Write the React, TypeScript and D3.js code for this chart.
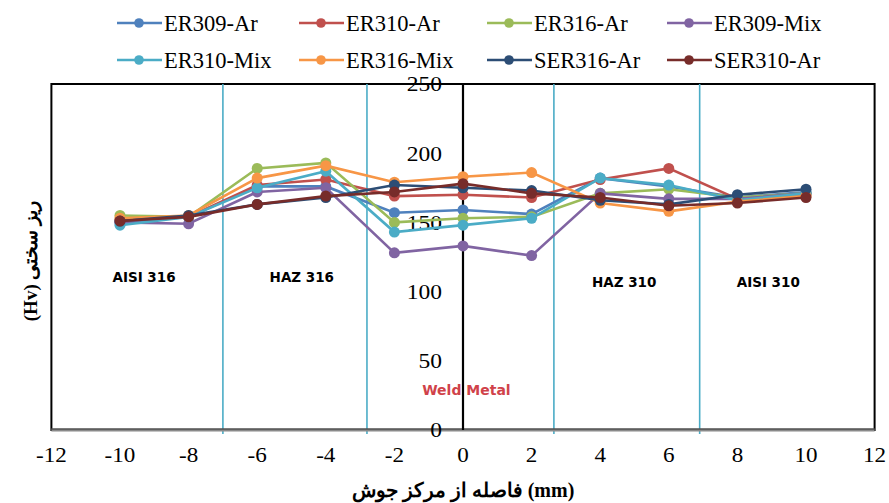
import React from "react";
import * as d3 from "d3";

const xs = [-10, -8, -6, -4, -2, 0, 2, 4, 6, 8, 10];
const seriesNames = ["ER309-Ar", "ER310-Ar", "ER316-Ar", "ER309-Mix", "ER310-Mix", "ER316-Mix", "SER316-Ar", "SER310-Ar"];
const seriesColors = ["#4F81BD", "#C0504D", "#9BBB59", "#8064A2", "#4BACC6", "#F79646", "#2C4D75", "#772C2A"];
const er309Ar = [150, 154, 176, 176, 157, 159, 156, 182, 176, 168, 172];
const er310Ar = [152, 154, 177, 181, 169, 170, 168, 181, 189, 167, 170];
const er316Ar = [155, 154, 189, 193, 150, 153, 154, 171, 174, 168, 171];
const er309Mix = [150, 149, 172, 175, 128, 133, 126, 171, 167, 167, 171];
const er310Mix = [148, 154, 175, 187, 143, 148, 153, 182, 177, 166, 171];
const er316Mix = [153, 155, 182, 191, 179, 183, 186, 164, 158, 165, 169];
const ser316Ar = [151, 155, 163, 168, 177, 175, 173, 166, 163, 170, 174];
const ser310Ar = [151, 154, 163, 169, 172, 178, 171, 168, 162, 164, 168];
const seriesValues = [er309Ar, er310Ar, er316Ar, er309Mix, er310Mix, er316Mix, ser316Ar, ser310Ar];

const xTicks = [-12, -10, -8, -6, -4, -2, 0, 2, 4, 6, 8, 10, 12];
const yTicks = [0, 50, 100, 150, 200, 250];
const zoneBounds = [-7, -2.8, 2.65, 6.9];
const zoneLabels = ["AISI 316", "HAZ 316", "HAZ 310", "AISI 310"];
const zoneLabelX = [-9.3, -4.7, 4.7, 8.9];
const zoneLabelY = [110, 110, 106.5, 106.5];

const W = 889;
const H = 503;

export default function App() {
  const x = d3.scaleLinear().domain([-12, 12]).range([51.4, 874.6]);
  const y = d3.scaleLinear().domain([0, 250]).range([430, 84]);
  const line = d3
    .line<number>()
    .x((_, i) => x(xs[i]))
    .y((v) => y(v));

  const legendCols = [117, 299, 487, 667];
  const legendRows = [23, 60];
  const serif = "'Liberation Serif', 'Times New Roman', serif";
  const sans = "'DejaVu Sans', Verdana, sans-serif";

  return (
    <svg width={W} height={H} style={{ position: "absolute", left: 0, top: 0, background: "#fff" }}>
      {/* plot box */}
      <rect x={x(-12)} y={y(250)} width={x(12) - x(-12)} height={y(0) - y(250)} fill="none" stroke="#000" strokeWidth={2} />
      {/* zone boundaries */}
      {zoneBounds.map((b, i) => (
        <line key={i} x1={x(b)} x2={x(b)} y1={y(250)} y2={y(0) + 4} stroke="#4BACC6" strokeWidth={1.6} />
      ))}
      {/* x axis line */}
      <line x1={x(-12)} x2={x(12)} y1={y(0)} y2={y(0)} stroke="#8a8a8a" strokeWidth={3} />
      <line x1={x(-12)} x2={x(12)} y1={y(0) - 1} y2={y(0) - 1} stroke="#333" strokeWidth={1} />
      {/* y axis at 0 */}
      <line x1={x(0)} x2={x(0)} y1={y(250)} y2={y(0)} stroke="#000" strokeWidth={2.2} />
      {yTicks.map((t) => (
        <text
          key={t}
          transform={`translate(${x(0) - 21}, ${y(t)}) scale(1.12, 1)`}
          dy="0.35em"
          textAnchor="end"
          fontFamily={serif}
          fontSize={21}
          fill="#000"
        >
          {t}
        </text>
      ))}
      {xTicks.map((t) => (
        <text
          key={t}
          transform={`translate(${x(t)}, 455) scale(1.1, 1)`}
          dy="0.35em"
          textAnchor="middle"
          fontFamily={serif}
          fontSize={21}
          fill="#000"
        >
          {t}
        </text>
      ))}
      {/* zone labels */}
      {zoneLabels.map((l, i) => (
        <text key={l} x={x(zoneLabelX[i])} y={y(zoneLabelY[i])} dy="0.35em" textAnchor="middle" fontFamily={sans} fontWeight="bold" fontSize={13.5} fill="#000">
          {l}
        </text>
      ))}
      <text x={x(0.1)} y={y(29)} dy="0.35em" textAnchor="middle" fontFamily={sans} fontWeight="bold" fontSize={14} fill="#D0424A">
        Weld Metal
      </text>
      {/* series */}
      {seriesValues.map((vals, si) => (
        <g key={seriesNames[si]}>
          <path d={line(vals) || ""} fill="none" stroke={seriesColors[si]} strokeWidth={2.6} />
          {vals.map((v, i) => (
            <circle key={i} cx={x(xs[i])} cy={y(v)} r={5.5} fill={seriesColors[si]} />
          ))}
        </g>
      ))}
      {/* legend */}
      {seriesNames.map((n, i) => {
        const lx = legendCols[i % 4];
        const ly = legendRows[Math.floor(i / 4)];
        return (
          <g key={n}>
            <line x1={lx} x2={lx + 45} y1={ly} y2={ly} stroke={seriesColors[i]} strokeWidth={2.6} />
            <circle cx={lx + 22} cy={ly} r={4.8} fill={seriesColors[i]} />
            <text x={lx + 47} y={ly} dy="0.35em" fontFamily={serif} fontSize={22.5} fill="#000">
              {n}
            </text>
          </g>
        );
      })}
      {/* axis titles */}
      <text
        transform={`translate(30, ${(y(0) + y(250)) / 2 + 4}) rotate(-90)`}
        textAnchor="middle"
        dy="0.35em"
        fontFamily={serif}
        fontWeight="bold"
        fontSize={19}
        fill="#000"
      >
        (Hv) ریز سختی
      </text>
      <text x={x(0)} y={490} textAnchor="middle" dy="0.35em" fontFamily={serif} fontWeight="bold" fontSize={20} fill="#000">
        فاصله از مرکز جوش (mm)
      </text>
    </svg>
  );
}
